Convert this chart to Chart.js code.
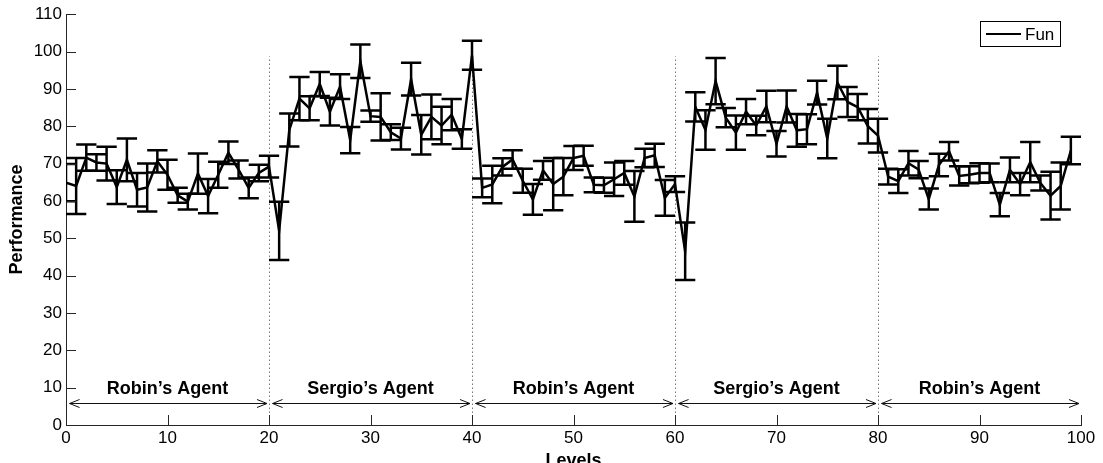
<!DOCTYPE html>
<html>
<head>
<meta charset="utf-8">
<script src="https://cdn.jsdelivr.net/npm/chart.js@4.4.0/dist/chart.umd.min.js"></script>
<style>
  html, body { margin: 0; padding: 0; background: #fff; }
</style>
</head>
<body>
<canvas id="myChart" width="1103" height="463"></canvas>
<script>
// levels played, mean "Fun" rating per level and its error
const levels = [
  0, 1, 2, 3, 4, 5, 6, 7, 8, 9, 10, 11, 12, 13, 14, 15, 16, 17, 18, 19,
  20, 21, 22, 23, 24, 25, 26, 27, 28, 29, 30, 31, 32, 33, 34, 35, 36, 37, 38, 39,
  40, 41, 42, 43, 44, 45, 46, 47, 48, 49, 50, 51, 52, 53, 54, 55, 56, 57, 58, 59,
  60, 61, 62, 63, 64, 65, 66, 67, 68, 69, 70, 71, 72, 73, 74, 75, 76, 77, 78, 79,
  80, 81, 82, 83, 84, 85, 86, 87, 88, 89, 90, 91, 92, 93, 94, 95, 96, 97, 98, 99
];
const fun = [
  64.9, 64.0, 71.6, 70.3, 70.0, 63.7, 71.0, 63.0, 63.6, 70.6,
  67.0, 61.5, 59.8, 67.3, 61.3, 67.0, 72.9, 68.4, 63.5, 67.5,
  69.2, 52.0, 79.0, 87.4, 84.8, 91.3, 83.9, 90.6, 76.3, 97.4,
  82.7, 82.5, 78.4, 76.7, 92.6, 77.7, 82.5, 80.2, 83.1, 76.6,
  99.0, 63.5, 64.4, 69.1, 71.1, 65.4, 60.4, 68.2, 64.5, 66.5,
  71.5, 72.1, 64.3, 64.2, 65.8, 67.5, 61.2, 71.5, 72.2, 60.8,
  64.5, 46.5, 85.2, 79.0, 92.1, 82.3, 78.3, 83.9, 80.2, 85.3,
  75.3, 85.3, 78.9, 79.2, 89.0, 76.7, 91.7, 86.5, 85.1, 80.0,
  77.5, 66.5, 65.3, 70.1, 68.4, 60.5, 69.6, 73.3, 66.7, 67.0,
  67.5, 67.5, 59.0, 68.3, 64.5, 70.4, 64.8, 61.4, 64.0, 73.5
];
const funErr = [
  5.0, 7.5, 3.5, 2.2, 4.5, 4.5, 5.7, 4.5, 6.4, 3.0,
  4.0, 2.0, 2.1, 5.4, 4.6, 3.5, 3.0, 2.4, 2.8, 2.2,
  2.9, 7.8, 4.4, 5.8, 3.2, 3.2, 3.7, 3.3, 3.5, 4.5,
  1.5, 6.3, 2.1, 2.9, 4.4, 5.3, 6.0, 5.0, 4.2, 2.6,
  3.9, 2.5, 5.0, 2.3, 2.5, 3.2, 4.1, 2.5, 7.0, 5.0,
  3.2, 2.7, 2.0, 2.0, 4.5, 3.2, 6.8, 2.5, 3.1, 4.8,
  2.1, 7.7, 3.9, 5.3, 6.2, 2.6, 4.6, 3.4, 2.6, 4.2,
  3.4, 4.3, 4.4, 4.0, 3.2, 5.3, 4.5, 4.0, 3.5, 4.6,
  4.5, 2.1, 3.2, 3.3, 2.3, 2.8, 3.0, 2.5, 2.6, 2.3,
  2.6, 2.5, 3.1, 3.3, 3.0, 5.4, 2.0, 6.4, 6.3, 3.7
];

const xTicks = [0, 10, 20, 30, 40, 50, 60, 70, 80, 90, 100];
const yTicks = [0, 10, 20, 30, 40, 50, 60, 70, 80, 90, 100, 110];

// which agent generated each block of 20 levels
const blockEdges = [0, 20, 40, 60, 80, 100];
const blockNames = ["Robin’s Agent", "Sergio’s Agent", "Robin’s Agent", "Sergio’s Agent", "Robin’s Agent"];
const dividers = [20, 40, 60, 80];
const dividerTop = 98.7;
const arrowLevel = 5.8;
const nameLevel = 9.6;
const capHalf = 1;

const FONT = '"Liberation Sans", Arial, Helvetica, sans-serif';
const AXIS = '#262626';

const errorBars = {
  id: 'errorBars',
  afterDatasetsDraw(chart) {
    const { ctx, chartArea, scales: { x, y } } = chart;
    ctx.save();
    ctx.beginPath();
    ctx.rect(chartArea.left, chartArea.top, chartArea.width, chartArea.height);
    ctx.clip();
    ctx.strokeStyle = '#000';
    ctx.lineWidth = 2.5;
    levels.forEach((lv, i) => {
      const px = x.getPixelForValue(lv);
      const l = x.getPixelForValue(lv - capHalf);
      const r = x.getPixelForValue(lv + capHalf);
      const hi = y.getPixelForValue(fun[i] + funErr[i]);
      const lo = y.getPixelForValue(fun[i] - funErr[i]);
      ctx.beginPath();
      ctx.moveTo(px, hi); ctx.lineTo(px, lo);
      ctx.moveTo(l, hi); ctx.lineTo(r, hi);
      ctx.moveTo(l, lo); ctx.lineTo(r, lo);
      ctx.stroke();
    });
    ctx.restore();
  }
};

const blocks = {
  id: 'blocks',
  beforeDatasetsDraw(chart) {
    const { ctx, scales: { x, y } } = chart;
    ctx.save();
    ctx.strokeStyle = '#777';
    ctx.lineWidth = 1;
    ctx.setLineDash([1.5, 2.5]);
    dividers.forEach(d => {
      const px = Math.round(x.getPixelForValue(d)) + 0.5;
      ctx.beginPath();
      ctx.moveTo(px, y.getPixelForValue(0));
      ctx.lineTo(px, y.getPixelForValue(dividerTop));
      ctx.stroke();
    });
    ctx.restore();
  },
  afterDatasetsDraw(chart) {
    const { ctx, scales: { x, y } } = chart;
    const ay = Math.round(y.getPixelForValue(arrowLevel)) + 0.5;
    ctx.save();
    ctx.strokeStyle = '#111';
    ctx.lineWidth = 1;
    for (let b = 0; b < blockNames.length; b++) {
      const x0 = x.getPixelForValue(blockEdges[b] + 0.35);
      const x1 = x.getPixelForValue(blockEdges[b + 1] - 0.2);
      ctx.beginPath();
      ctx.moveTo(x0, ay); ctx.lineTo(x1, ay);
      ctx.moveTo(x0 + 10, ay - 4); ctx.lineTo(x0, ay); ctx.lineTo(x0 + 10, ay + 4);
      ctx.moveTo(x1 - 10, ay - 4); ctx.lineTo(x1, ay); ctx.lineTo(x1 - 10, ay + 4);
      ctx.stroke();

      ctx.fillStyle = '#000';
      ctx.font = 'bold 18px ' + FONT;
      ctx.textAlign = 'center';
      ctx.textBaseline = 'middle';
      const mid = (blockEdges[b] + blockEdges[b + 1]) / 2;
      ctx.fillText(blockNames[b], x.getPixelForValue(mid), y.getPixelForValue(nameLevel));
    }
    ctx.restore();
  }
};

// MATLAB style inward tick marks
const innerTicks = {
  id: 'innerTicks',
  afterDraw(chart) {
    const { ctx, chartArea, scales: { x, y } } = chart;
    ctx.save();
    ctx.strokeStyle = AXIS;
    ctx.lineWidth = 1;
    ctx.beginPath();
    yTicks.forEach(v => {
      const py = Math.round(y.getPixelForValue(v)) + 0.5;
      ctx.moveTo(chartArea.left, py); ctx.lineTo(chartArea.left + 10, py);
    });
    xTicks.forEach(v => {
      const px = Math.round(x.getPixelForValue(v)) + 0.5;
      ctx.moveTo(px, chartArea.bottom); ctx.lineTo(px, chartArea.bottom - 10);
    });
    ctx.stroke();
    ctx.restore();
  }
};

const funLegend = {
  id: 'funLegend',
  afterDraw(chart) {
    const { ctx } = chart;
    const label = chart.data.datasets[0].label;
    ctx.save();
    ctx.fillStyle = '#fff';
    ctx.fillRect(980, 21, 81, 26);
    ctx.strokeStyle = '#000';
    ctx.lineWidth = 1;
    ctx.strokeRect(980.5, 21.5, 80, 25);
    ctx.lineWidth = 2;
    ctx.beginPath();
    ctx.moveTo(986, 34); ctx.lineTo(1021, 34);
    ctx.stroke();
    ctx.fillStyle = '#000';
    ctx.font = '17px ' + FONT;
    ctx.textAlign = 'left';
    ctx.textBaseline = 'middle';
    ctx.fillText(label, 1025, 35);
    ctx.restore();
  }
};

const ctx = document.getElementById('myChart');
const myChart = new Chart(ctx, {
  type: 'line',
  data: {
    datasets: [
      {
        label: 'Fun',
        data: levels.map((lv, i) => ({ x: lv, y: fun[i] })),
        borderColor: '#000',
        borderWidth: 2.5,
        pointRadius: 0,
        tension: 0,
        fill: false,
      },
    ],
  },
  options: {
    responsive: false,
    animation: false,
    devicePixelRatio: 1,
    layout: { padding: { top: 11, right: 22, bottom: 0, left: 0 } },
    plugins: {
      legend: { display: false },
      tooltip: { enabled: false },
    },
    scales: {
      x: {
        type: 'linear',
        min: 0,
        max: 100,
        afterBuildTicks: (axis) => { axis.ticks = xTicks.map(v => ({ value: v })); },
        afterFit: (axis) => { axis.height = 38; },
        grid: { display: true, drawOnChartArea: false, drawTicks: false },
        border: { display: true, color: AXIS, width: 1 },
        ticks: {
          color: '#000',
          padding: 3,
          maxRotation: 0,
          font: { family: FONT, size: 17 },
        },
        title: {
          display: true,
          text: 'Levels',
          color: '#000',
          font: { family: FONT, size: 18, weight: 'bold' },
          padding: { top: 0, bottom: -9 },
        },
      },
      y: {
        min: 0,
        max: 110,
        afterBuildTicks: (axis) => { axis.ticks = yTicks.map(v => ({ value: v })); },
        afterFit: (axis) => { axis.width = 66; },
        grid: { display: true, drawOnChartArea: false, drawTicks: false },
        border: { display: true, color: AXIS, width: 1 },
        ticks: {
          color: '#000',
          padding: 4,
          font: { family: FONT, size: 17 },
        },
        title: {
          display: true,
          text: 'Performance',
          color: '#000',
          font: { family: FONT, size: 18, weight: 'bold' },
          padding: { top: 6, bottom: 0 },
        },
      },
    },
  },
  plugins: [blocks, errorBars, innerTicks, funLegend],
});
</script>
</body>
</html>
